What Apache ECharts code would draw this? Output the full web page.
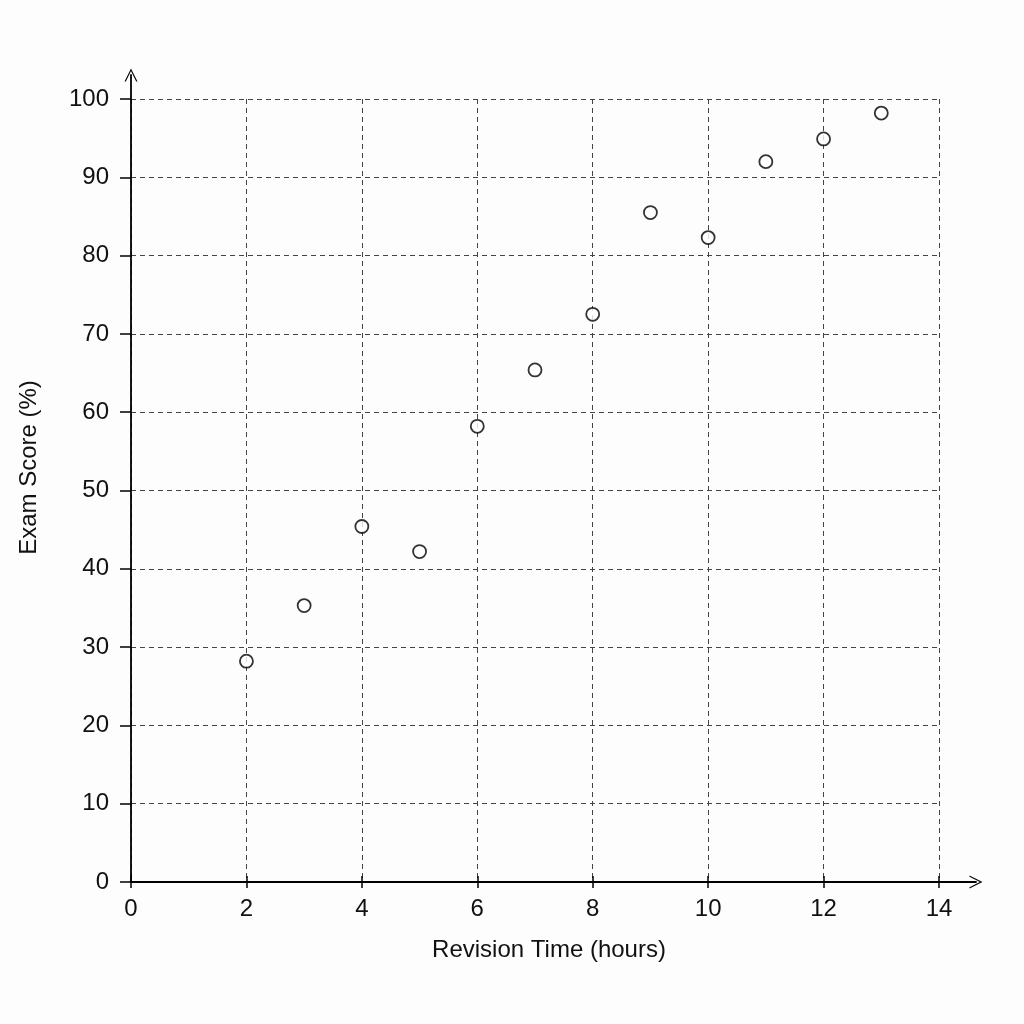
<!DOCTYPE html>
<html>
<head>
<meta charset="utf-8">
<script src="https://cdn.jsdelivr.net/npm/echarts@6/dist/echarts.min.js"></script>
<style>html,body{margin:0;padding:0;background:#fdfdfd;}#c{width:1024px;height:1024px;}</style>
</head>
<body>
<div id="c"></div>
<script>
const hours = [2, 3, 4, 5, 6, 7, 8, 9, 10, 11, 12, 13];
const scores = [28.2, 35.3, 45.4, 42.2, 58.2, 65.4, 72.5, 85.5, 82.3, 92.0, 94.9, 98.2];
const xTitle = 'Revision Time (hours)';
const yTitle = 'Exam Score (%)';

const points = hours.map((h, i) => [h, scores[i]]);
const font = 'Liberation Sans, Arial, sans-serif';
const arrow = 'path://M0,10 L5,0 L10,10 L9,10 L5,2 L1,10 Z';
const chart = echarts.init(document.getElementById('c'));
chart.setOption({
  backgroundColor: '#fdfdfd',
  animation: false,
  grid: [
    {left: 131, right: 85, top: 99, bottom: 142},
    {left: 131, right: 48, top: 75, bottom: 142}
  ],
  xAxis: [
    {
      type: 'value', gridIndex: 0, min: 0, max: 14, interval: 2,
      name: xTitle, nameLocation: 'middle', nameGap: 56,
      nameTextStyle: {fontFamily: font, fontSize: 24, color: '#111', padding: [0, 0, 0, 28]},
      axisLine: {show: false},
      axisTick: {show: true, length: 6, lineStyle: {color: '#000', width: 1.5}},
      axisLabel: {fontFamily: font, fontSize: 24, color: '#111', margin: 15},
      splitLine: {show: true, lineStyle: {color: '#444', type: [5, 4], width: 1}}
    },
    {
      type: 'value', gridIndex: 0, min: 0, max: 14, interval: 2, position: 'bottom',
      axisLine: {show: false},
      axisTick: {show: true, inside: true, length: 6, lineStyle: {color: '#000', width: 1.5}},
      axisLabel: {show: false}, splitLine: {show: false}
    },
    {
      type: 'value', gridIndex: 1, min: 0, max: 1,
      axisLine: {show: true, symbol: ['none', arrow], symbolSize: [16, 13], lineStyle: {color: '#000', width: 1.8}},
      axisTick: {show: false}, axisLabel: {show: false}, splitLine: {show: false}
    }
  ],
  yAxis: [
    {
      type: 'value', gridIndex: 0, min: 0, max: 100, interval: 10,
      name: yTitle, nameLocation: 'middle', nameGap: 90, nameRotate: 90,
      nameTextStyle: {fontFamily: font, fontSize: 24, color: '#111', padding: [0, 0, 0, 46]},
      axisLine: {show: false},
      axisTick: {show: true, length: 11, lineStyle: {color: '#000', width: 1.5}},
      axisLabel: {fontFamily: font, fontSize: 24, color: '#111', margin: 22},
      splitLine: {show: true, lineStyle: {color: '#444', type: [5, 4], width: 1}}
    },
    {
      type: 'value', gridIndex: 1, min: 0, max: 1,
      axisLine: {show: true, symbol: ['none', arrow], symbolSize: [16, 13], lineStyle: {color: '#000', width: 1.8}},
      axisTick: {show: false}, axisLabel: {show: false}, splitLine: {show: false}
    }
  ],
  series: [{
    type: 'scatter', xAxisIndex: 0, yAxisIndex: 0,
    data: points, symbol: 'circle', symbolSize: 13,
    itemStyle: {color: '#ffffff', borderColor: '#000', borderWidth: 1.8}
  }]
});
</script>
</body>
</html>
